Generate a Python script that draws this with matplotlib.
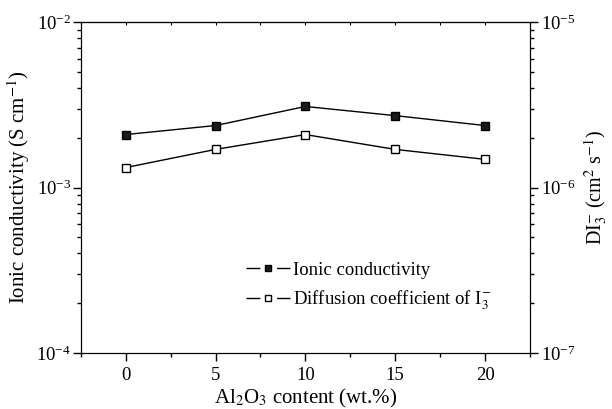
import matplotlib
matplotlib.use("Agg")
from matplotlib import pyplot as plt
from matplotlib.lines import Line2D
from matplotlib.ticker import LogLocator, MultipleLocator, NullFormatter

plt.rcParams['font.family'] = ['Liberation Serif', 'DejaVu Serif']
plt.rcParams['mathtext.fontset'] = 'stix'

content = [0, 5, 10, 15, 20]
ionic_cond = [2.09e-3, 2.37e-3, 3.09e-3, 2.72e-3, 2.37e-3]
diff_coef = [1.32e-6, 1.70e-6, 2.09e-6, 1.70e-6, 1.48e-6]

fig = plt.figure(figsize=(6.12, 4.09), dpi=100)
ax = fig.add_axes([0.132, 0.137, 0.734, 0.809])
ax2 = ax.twinx()

ax.plot(content, ionic_cond, color='black', lw=1, marker='s', ms=5.5,
        mfc='#1a1a1a', mec='black')
ax2.plot(content, diff_coef, color='black', lw=1, marker='s', ms=5.5,
         mfc='white', mec='black')

ax.set_yscale('log')
ax2.set_yscale('log')
ax.set_ylim(1e-4, 1e-2)
ax2.set_ylim(1e-7, 1e-5)
ax.set_xlim(-2.5, 22.5)

ax.xaxis.set_major_locator(MultipleLocator(5))
ax.xaxis.set_minor_locator(MultipleLocator(2.5))
for a in (ax, ax2):
    a.yaxis.set_major_locator(LogLocator(base=10, numticks=10))
    a.yaxis.set_minor_locator(LogLocator(base=10, subs=range(2, 10), numticks=10))
    a.yaxis.set_minor_formatter(NullFormatter())

ax.tick_params(axis='x', which='major', direction='out', length=6, width=1, labelsize=13.5, pad=4)
ax.tick_params(axis='y', which='major', direction='out', length=6, width=1, labelsize=13.5, pad=1)
ax.tick_params(axis='both', which='minor', direction='out', length=3, width=1)
ax.tick_params(axis='x', which='both', top=False)
ax2.tick_params(axis='y', which='major', direction='out', length=6, width=1, labelsize=13.5, pad=2)
ax2.tick_params(axis='y', which='minor', direction='out', length=3, width=1)

# tiny inward ticks along the top edge
sec = ax.secondary_xaxis('top')
sec.xaxis.set_major_locator(MultipleLocator(2.5))
sec.tick_params(direction='in', length=2, width=0.8, labeltop=False)

ax.set_xlabel(r'Al$_2$O$_3$ content (wt.%)', fontsize=15, labelpad=2)
ax.set_ylabel(r'Ionic conductivity (S cm$^{-1}$)', fontsize=15, labelpad=3)
ax2.set_ylabel(r'DI$_3^{-}$ (cm$^2$ s$^{-1}$)', fontsize=14.5, labelpad=5)

seg = (0, (10, 12, 10, 100))
h1 = Line2D([], [], color='black', lw=1, linestyle=seg, marker='s', ms=5,
            mfc='#1a1a1a', mec='black')
h2 = Line2D([], [], color='black', lw=1, linestyle=seg, marker='s', ms=5,
            mfc='white', mec='black')
ax.legend(handles=[h1, h2],
          labels=['Ionic conductivity', r'Diffusion coefficient of I$_3^{-}$'],
          loc='center left', bbox_to_anchor=(0.33, 0.2),
          frameon=False, fontsize=13.5, handlelength=2.35, labelspacing=0.5,
          handletextpad=0.15)

fig.savefig('out.png', dpi=100)
